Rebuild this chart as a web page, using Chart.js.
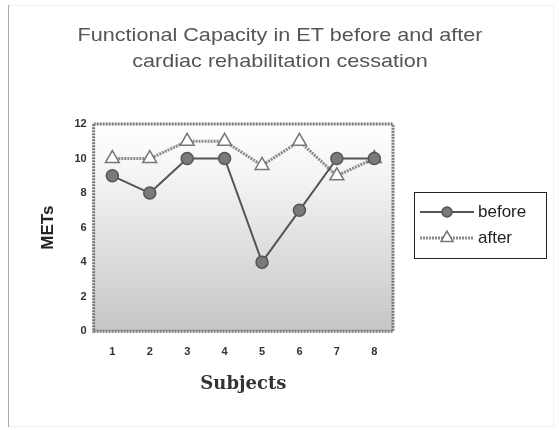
<!DOCTYPE html>
<html>
<head>
<meta charset="utf-8">
<script src="https://cdn.jsdelivr.net/npm/chart.js@4.4.0/dist/chart.umd.min.js"></script>
<style>
  html, body { margin: 0; padding: 0; background: #fff; }
  #wrap { width: 559px; height: 430px; position: relative; }
</style>
</head>
<body>
<div id="wrap"><canvas id="chart" width="559" height="430"></canvas></div>
<script>
// chart values
var subjects = ["1", "2", "3", "4", "5", "6", "7", "8"];
var before = [9, 8, 10, 10, 4, 7, 10, 10];
var after = [10, 10, 11, 11, 9.6, 11, 9, 10];
var yTicks = [0, 2, 4, 6, 8, 10, 12];
var seriesNames = ["before", "after"];
var titleLines = ["Functional Capacity in ET before and after", "cardiac rehabilitation cessation"];

// plot background: white at top fading to grey at the bottom
var plotBack = {
	id: "plotBack",
	beforeDatasetsDraw: function(chart) {
		var a = chart.chartArea, ctx = chart.ctx;
		var g = ctx.createLinearGradient(0, a.top, 0, a.bottom);
		g.addColorStop(0, "#ffffff");
		g.addColorStop(0.25, "#f4f4f4");
		g.addColorStop(1, "#c6c6c6");
		ctx.save();
		ctx.fillStyle = g;
		ctx.fillRect(a.left, a.top, a.right - a.left, a.bottom - a.top);
		ctx.strokeStyle = "#777";
		ctx.lineWidth = 3;
		ctx.setLineDash([2, 1]);
		ctx.strokeRect(a.left, a.top, a.right - a.left, a.bottom - a.top);
		ctx.restore();
	}
};

// title, legend box with line + marker samples, and the faint outer frame
var boxLegend = {
	id: "boxLegend",
	afterDraw: function(chart) {
		var ctx = chart.ctx;
		ctx.save();
		// outer frame
		ctx.strokeStyle = "#e2e2e2";
		ctx.lineWidth = 1;
		ctx.setLineDash([2, 2]);
		ctx.strokeRect(8.5, 5.5, 545, 421);
		ctx.setLineDash([]);
		ctx.strokeStyle = "#aaa";
		ctx.beginPath();
		ctx.moveTo(8.5, 5);
		ctx.lineTo(8.5, 427);
		ctx.stroke();

		// title, stretched a little sideways like the scan
		ctx.fillStyle = "#555";
		ctx.font = "19px 'Liberation Sans', Arial, sans-serif";
		ctx.textAlign = "center";
		ctx.textBaseline = "middle";
		var sx = 405 / ctx.measureText(titleLines[0]).width;
		ctx.save();
		ctx.translate(280, 0);
		ctx.scale(sx, 1);
		ctx.fillText(titleLines[0], 0, 36);
		ctx.fillText(titleLines[1], 0, 62);
		ctx.restore();

		var x = 414, y = 192, w = 132, h = 66;
		ctx.textAlign = "left";
		ctx.font = "17px 'Liberation Sans', Arial, sans-serif";
		ctx.strokeStyle = "#222";
		ctx.lineWidth = 1;
		ctx.strokeRect(x + 0.5, y + 0.5, w, h);
		chart.data.datasets.forEach(function(ds, i) {
			var ly = y + 20 + i * 26;
			ctx.strokeStyle = ds.borderColor;
			ctx.lineWidth = ds.borderWidth;
			ctx.setLineDash(ds.borderDash || []);
			ctx.beginPath();
			ctx.moveTo(x + 6, ly);
			ctx.lineTo(x + 60, ly);
			ctx.stroke();
			ctx.setLineDash([]);
			ctx.fillStyle = ds.pointBackgroundColor;
			ctx.strokeStyle = ds.pointBorderColor;
			ctx.lineWidth = ds.pointBorderWidth;
			Chart.helpers.drawPoint(ctx, {
				pointStyle: ds.pointStyle,
				radius: ds.pointRadius - 1,
				borderWidth: ds.pointBorderWidth
			}, x + 33, ly);
			ctx.fillStyle = "#222";
			ctx.fillText(ds.label, x + 64, ly);
		});
		ctx.restore();
	}
};

new Chart(document.getElementById("chart"), {
	type: "line",
	data: {
		labels: subjects,
		datasets: [{
			label: seriesNames[0],
			data: before,
			borderColor: "#555",
			borderWidth: 2,
			pointStyle: "circle",
			pointRadius: 6,
			pointBackgroundColor: "#7a7a7a",
			pointBorderColor: "#555",
			pointBorderWidth: 1.5
		}, {
			label: seriesNames[1],
			data: after,
			borderColor: "#8a8a8a",
			borderWidth: 3,
			borderDash: [2, 1],
			pointStyle: "triangle",
			pointRadius: 8,
			pointBackgroundColor: "#fff",
			pointBorderColor: "#777",
			pointBorderWidth: 1.5
		}]
	},
	plugins: [plotBack, boxLegend],
	options: {
		responsive: false,
		animation: false,
		layout: { padding: { left: 34, right: 166, top: 124, bottom: 31 } },
		plugins: {
			legend: { display: false },
			tooltip: { enabled: false },
			title: { display: false }
		},
		scales: {
			x: {
				offset: true,
				grid: { display: false, drawTicks: false },
				border: { display: false },
				ticks: { color: "#333", font: { size: 11, weight: "bold" }, padding: 14 },
				title: {
					display: true,
					text: "Subjects",
					color: "#333",
					font: { family: "'DejaVu Serif', serif", size: 18, weight: "bold" },
					padding: { top: 1 }
				}
			},
			y: {
				min: 0,
				max: 12,
				afterBuildTicks: function(axis) {
					axis.ticks = yTicks.map(function(v) { return { value: v }; });
				},
				grid: { display: false, drawTicks: false },
				border: { display: false },
				ticks: { color: "#333", font: { size: 11, weight: "bold" }, padding: 7 },
				title: {
					display: true,
					text: "METs",
					color: "#222",
					font: { family: "'Liberation Sans', Arial, sans-serif", size: 17, weight: "bold" },
					padding: { bottom: 9 }
				}
			}
		}
	}
});
</script>
</body>
</html>
